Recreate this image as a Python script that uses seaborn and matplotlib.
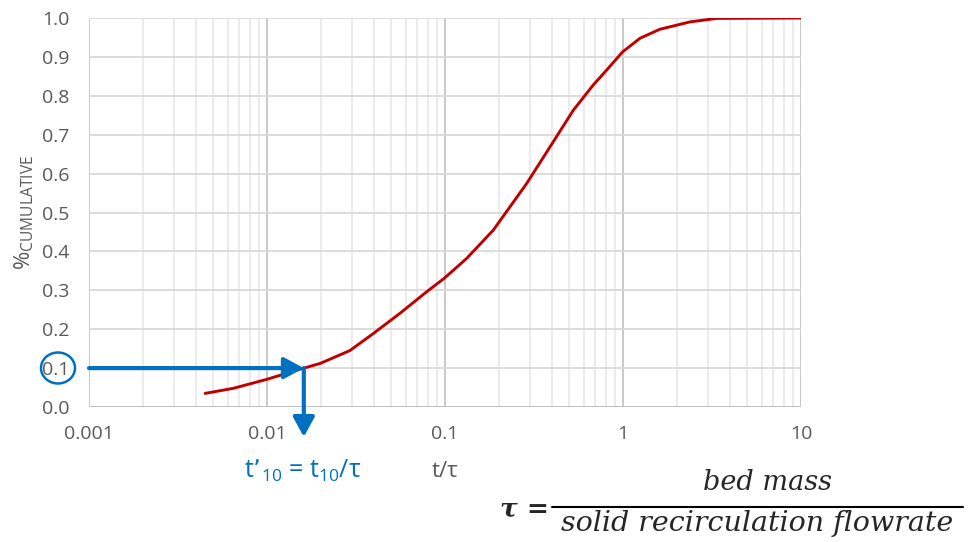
import numpy as np
import pandas as pd
import seaborn as sns
import matplotlib
matplotlib.use("Agg")
import matplotlib.pyplot as plt
from matplotlib.patches import Ellipse
from matplotlib.lines import Line2D
from matplotlib.ticker import LogLocator, FixedLocator, NullFormatter

# ---- data ----
t_tau = [0.00449, 0.00647, 0.00996, 0.0153, 0.0199, 0.0292, 0.0396, 0.0559,
         0.0788, 0.0991, 0.1324, 0.187, 0.288, 0.406, 0.526,
         0.681, 0.809, 0.995, 1.247, 1.61, 2.38, 3.36, 10.0]
cumulative = [0.035, 0.048, 0.071, 0.097, 0.112, 0.145, 0.189, 0.241,
              0.296, 0.331, 0.382, 0.455, 0.575, 0.682, 0.763,
              0.828, 0.866, 0.913, 0.948, 0.971, 0.990, 0.999, 1.000]
x_ticks = [0.001, 0.01, 0.1, 1, 10]
x_tick_labels = ["0.001", "0.01", "0.1", "1", "10"]
y_ticks = [0.0, 0.1, 0.2, 0.3, 0.4, 0.5, 0.6, 0.7, 0.8, 0.9, 1.0]
y_tick_labels = ["0.0", "0.1", "0.2", "0.3", "0.4", "0.5", "0.6", "0.7", "0.8", "0.9", "1.0"]
t10_level = 0.1
t10_value = 0.0161

df = pd.DataFrame({"t_tau": t_tau, "cum": cumulative})

sns.set_theme(style="white")
plt.rcParams["font.family"] = ["Open Sans", "DejaVu Sans"]
plt.rcParams["mathtext.default"] = "regular"

W, H = 970, 542
fig = plt.figure(figsize=(W / 100, H / 100), dpi=100)
fig.patch.set_facecolor("white")
ax = fig.add_axes([89 / W, 1 - 407 / H, (801 - 89) / W, (407 - 18) / H])

GRAY_TXT = "#595959"
BLUE = "#0070C0"
RED = "#C00000"

sns.lineplot(data=df, x="t_tau", y="cum", color=RED, linewidth=2.1, ax=ax,
             sort=False, estimator=None, zorder=5)

ax.set_xscale("log")
ax.set_xlim(0.001, 10)
ax.set_ylim(0, 1.0)
ax.xaxis.set_major_locator(FixedLocator(x_ticks))
ax.set_xticklabels(x_tick_labels)
ax.xaxis.set_minor_locator(LogLocator(base=10, subs=np.arange(2, 10)))
ax.xaxis.set_minor_formatter(NullFormatter())
ax.set_yticks(y_ticks)
ax.set_yticklabels(y_tick_labels)

for s in ax.spines.values():
    s.set_visible(False)
ax.tick_params(axis="both", which="both", length=0, colors=GRAY_TXT, labelsize=14)
ax.tick_params(axis="y", pad=14)
ax.tick_params(axis="x", pad=13)

ax.grid(which="major", axis="x", color="#c4c4c4", linewidth=1.3)
ax.grid(which="minor", axis="x", color="#e6e6e6", linewidth=1.1)
ax.grid(which="major", axis="y", color="#d9d9d9", linewidth=1.3)
ax.axhline(0, color="#bfbfbf", linewidth=1.3, zorder=1)

ax.set_xlabel("t/τ", color=GRAY_TXT, fontsize=16)
ax.xaxis.set_label_coords(0.5, -0.14)
ax.set_ylabel("%$_{CUMULATIVE}$", color=GRAY_TXT, fontsize=16)
ax.yaxis.set_label_coords(-0.075, 0.5)

# ---- blue annotation arrows ----
ax.annotate("", xy=(t10_value, t10_level), xytext=(0.001, t10_level),
            arrowprops=dict(arrowstyle="-|>,head_length=0.7,head_width=0.38",
                            color=BLUE, lw=3, shrinkA=0, shrinkB=0,
                            mutation_scale=17),
            annotation_clip=False, zorder=6)
ax.annotate("", xy=(t10_value, -0.077), xytext=(t10_value, t10_level),
            arrowprops=dict(arrowstyle="-|>,head_length=0.7,head_width=0.38",
                            color=BLUE, lw=3, shrinkA=0, shrinkB=0,
                            mutation_scale=17),
            annotation_clip=False, zorder=6)

def px(x, y):
    return x / W, 1 - y / H

# circle around 0.1 label
cx, cy = px(58, 368)
fig.add_artist(Ellipse((cx, cy), 34 / W, 31 / H, transform=fig.transFigure,
                       fill=False, edgecolor=BLUE, linewidth=1.8))

# t'10 label
tx, ty = px(303, 471)
fig.text(tx, ty, "t’$_{10}$ = t$_{10}$/τ", color=BLUE, fontsize=18,
         ha="center", va="center")

# ---- formula ----
SERIF = ["DejaVu Serif"]
fx, fy = px(525, 509)
fig.text(fx, fy, "τ =", fontsize=19, family=SERIF, style="italic",
         weight="bold", ha="center", va="center")
nx, ny = px(768, 490)
fig.text(nx, ny, "bed mass", fontsize=19.5, family=SERIF, style="italic",
         ha="center", va="baseline")
dx, dy = px(757, 531)
fig.text(dx, dy, "solid recirculation flowrate", fontsize=20.5, family=SERIF,
         style="italic", ha="center", va="baseline")
lx0, ly = px(552, 507)
lx1, _ = px(963, 507)
fig.add_artist(Line2D([lx0, lx1], [ly, ly], transform=fig.transFigure,
                      color="black", linewidth=1.5))

fig.savefig("out.png", dpi=100, facecolor="white")
